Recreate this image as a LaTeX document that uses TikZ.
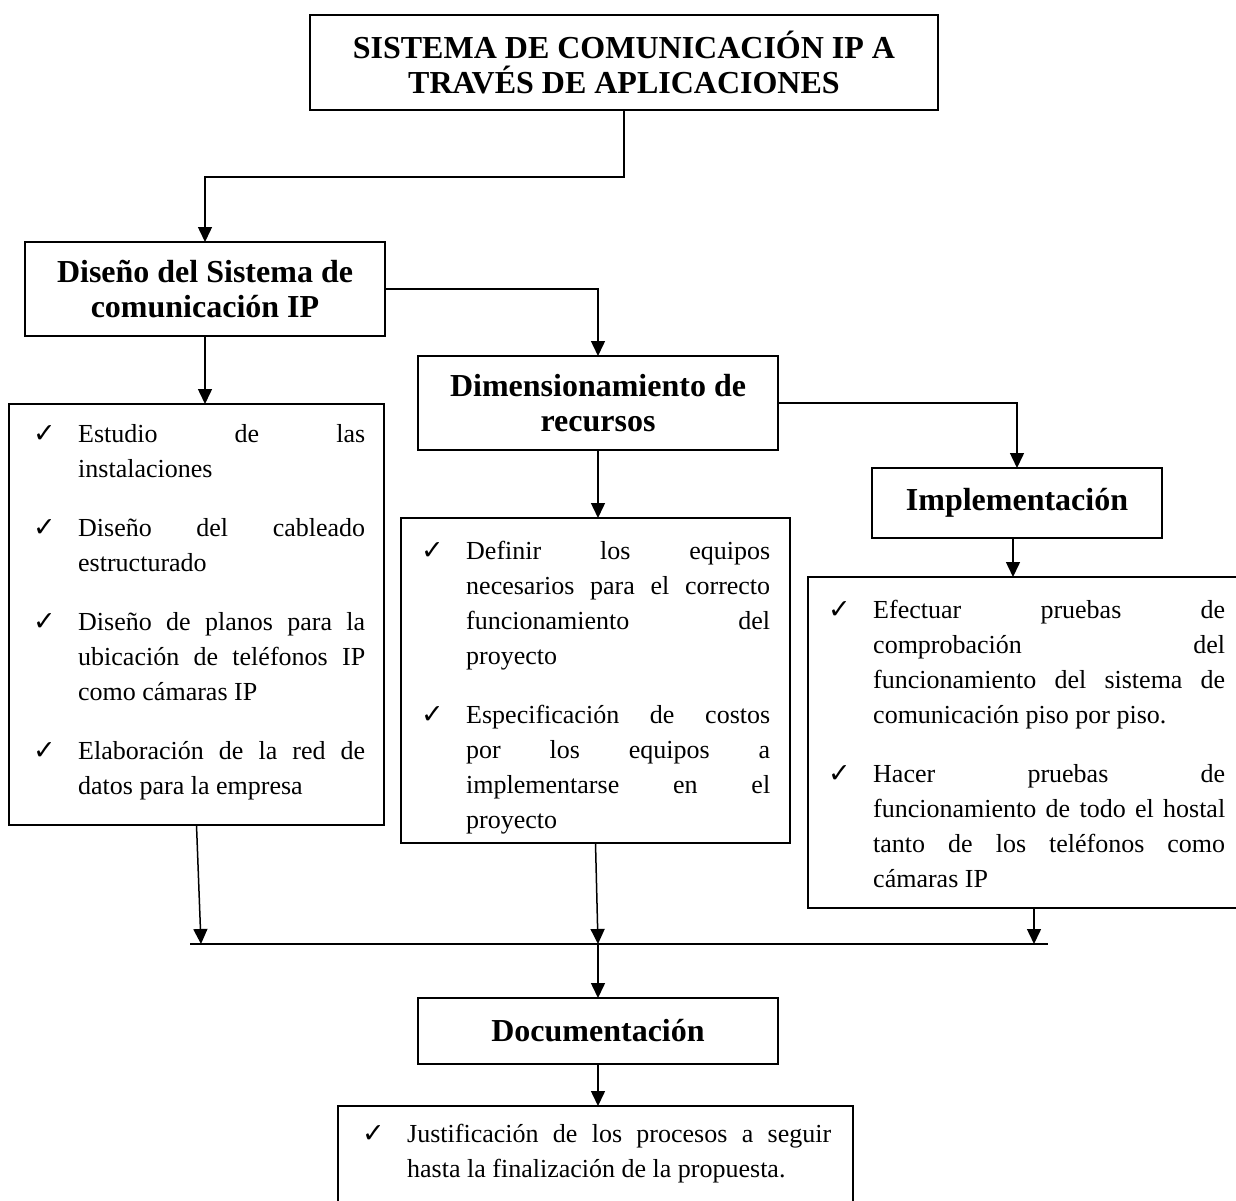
\documentclass[tikz,border=0pt]{standalone}
\usepackage{fontspec}
\setmainfont{Liberation Serif}
\newfontfamily\dejavu{DejaVu Sans}
\usetikzlibrary{arrows.meta}
\newcommand{\chk}{{\dejavu\fontsize{27}{27}\selectfont ✓}}
\newcommand{\lsetup}{\tolerance=10000 \hyphenpenalty=10000 \exhyphenpenalty=10000 \relax}
\newcommand{\citem}[1]{\par\noindent\hangindent=45pt \hangafter=1 \relax\makebox[45pt][l]{\rule{0pt}{26pt}\chk}#1\par}
\tikzset{
  box/.style={draw, line width=1.5pt, inner sep=0pt, outer sep=0pt, anchor=north west, align=center,
    font=\fontsize{32}{35}\selectfont\bfseries},
  lbox/.style={draw, line width=1.5pt, inner sep=0pt, outer sep=0pt, anchor=north west},
  lst/.style={inner sep=0pt, anchor=north west, align=justify, font=\fontsize{26}{35}\selectfont},
  arr/.style={-{Triangle[width=14pt,length=15pt]}, line width=1.5pt},
  conn/.style={line width=1.5pt}
}
\begin{document}
\begin{tikzpicture}[x=1pt,y=-1pt]
\useasboundingbox (0,0) rectangle (1236,1201);
% heading boxes
\node[box, minimum width=628pt, minimum height=95pt] (title) at (310,15) {SISTEMA DE COMUNICACIÓN IP A\\TRAVÉS DE APLICACIONES};
\node[box, minimum width=360pt, minimum height=94pt] (dis) at (25,242) {Diseño del Sistema de\\comunicación IP};
\node[box, minimum width=360pt, minimum height=94pt] (dim) at (418,356) {Dimensionamiento de\\recursos};
\node[box, minimum width=290pt, minimum height=70pt] (imp) at (872,468) {Implementación};
\node[box, minimum width=360pt, minimum height=66pt] (doc) at (418,998) {Documentación};
% list boxes
\node[lbox, minimum width=375pt, minimum height=421pt] (l1) at (9,404) {};
\node[lbox, minimum width=389pt, minimum height=325pt] (l2) at (401,518) {};
\node[lbox, minimum width=442pt, minimum height=331pt] (l4) at (808,577) {};
\node[lbox, minimum width=515pt, minimum height=124pt] (fin) at (338,1106) {};
% list texts
\node[lst, text width=332pt] (l1t) at (33,407) {\lsetup
\citem{Estudio de las\linebreak instalaciones}\vspace{24pt}%
\citem{Diseño del cableado\linebreak estructurado}\vspace{24pt}%
\citem{Diseño de planos para la\linebreak ubicación de teléfonos IP\linebreak como cámaras IP}\vspace{24pt}%
\citem{Elaboración de la red de\linebreak datos para la empresa}};
\node[lst, text width=349pt] (l2t) at (421,524) {\lsetup
\citem{Definir los equipos\linebreak necesarios para el correcto\linebreak funcionamiento del\linebreak proyecto}\vspace{24pt}%
\citem{Especificación de costos\linebreak por los equipos a\linebreak implementarse en el\linebreak proyecto}};
\node[lst, text width=397pt] (l4t) at (828,583) {\lsetup
\citem{Efectuar pruebas de\linebreak comprobación del\linebreak funcionamiento del sistema de\linebreak comunicación piso por piso.}\vspace{24pt}%
\citem{Hacer pruebas de\linebreak funcionamiento de todo el hostal\linebreak tanto de los teléfonos como\linebreak cámaras IP}};
\node[lst, text width=469pt] (fint) at (362,1107) {\lsetup
\citem{Justificación de los procesos a seguir\linebreak hasta la finalización de la propuesta.}};
% connectors
\draw[arr] (title.south) -- ++(0,67) -| (dis.north);
\draw[arr] (dis.east) -| (dim.north);
\draw[arr] (dim.east) -| (imp.north);
\draw[arr] (dis.south) -- (dis.south |- l1.north);
\draw[arr] (dim.south) -- (dim.south |- l2.north);
\draw[arr] ([xshift=-4pt]imp.south) -- ([xshift=-4pt]imp.south |- l4.north);
\coordinate (barL) at (190,944);
\coordinate (barR) at (1048,944);
\coordinate (b1) at (201,944);
\coordinate (b2) at (598,944);
\coordinate (b3) at (1034,944);
\draw[conn] (barL) -- (barR);
\draw[arr] (l1.south) -- (b1);
\draw[arr] (l2.south) -- (b2);
\draw[arr] (l4.south -| b3) -- (b3);
\draw[arr] (b2) -- (doc.north);
\draw[arr] (doc.south) -- (doc.south |- fin.north);
\end{tikzpicture}
\end{document}
